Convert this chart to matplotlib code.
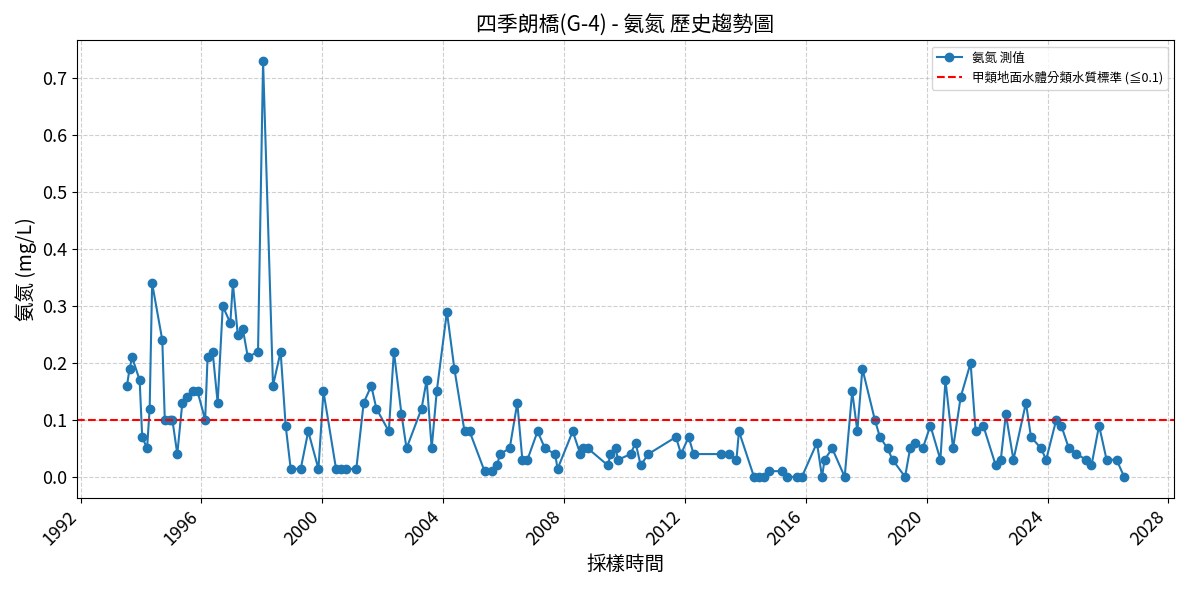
import pandas as pd
import matplotlib.pyplot as plt

plt.rcParams['font.family'] = ['Noto Sans CJK TC', 'DejaVu Sans']
plt.rcParams['axes.unicode_minus'] = False

# sampling dates and NH3-N values (mg/L)
dates = [
    '1993-07', '1993-08', '1993-09', '1993-12', '1994-01', '1994-03', '1994-04', '1994-05',
    '1994-09', '1994-10', '1994-12', '1995-01', '1995-03', '1995-05', '1995-07', '1995-09',
    '1995-11', '1996-02', '1996-03', '1996-05', '1996-07', '1996-09', '1996-12', '1997-01',
    '1997-03', '1997-05', '1997-07', '1997-11', '1998-01', '1998-05', '1998-08', '1998-10',
    '1998-12', '1999-04', '1999-07', '1999-11', '2000-01', '2000-06', '2000-08', '2000-10',
    '2001-02', '2001-05', '2001-08', '2001-10', '2002-03', '2002-05', '2002-08', '2002-10',
    '2003-04', '2003-06', '2003-08', '2003-10', '2004-02', '2004-05', '2004-09', '2004-11',
    '2005-05', '2005-08', '2005-10', '2005-11', '2006-03', '2006-06', '2006-08', '2006-10',
    '2007-02', '2007-05', '2007-09', '2007-10', '2008-04', '2008-07', '2008-08', '2008-10',
    '2009-06', '2009-07', '2009-09', '2009-10', '2010-03', '2010-05', '2010-07', '2010-10',
    '2011-09', '2011-11', '2012-02', '2012-04', '2013-03', '2013-06', '2013-09', '2013-10',
    '2014-04', '2014-06', '2014-08', '2014-10', '2015-03', '2015-05', '2015-09', '2015-11',
    '2016-05', '2016-07', '2016-08', '2016-11', '2017-04', '2017-07', '2017-09', '2017-11',
    '2018-04', '2018-06', '2018-09', '2018-11', '2019-04', '2019-06', '2019-08', '2019-11',
    '2020-02', '2020-06', '2020-08', '2020-11', '2021-02', '2021-06', '2021-08', '2021-11',
    '2022-04', '2022-06', '2022-08', '2022-11', '2023-04', '2023-06', '2023-10', '2023-12',
    '2024-04', '2024-06', '2024-09', '2024-12', '2025-04', '2025-06', '2025-09', '2025-12',
    '2026-04', '2026-07',
]
values = [
    0.16, 0.19, 0.21, 0.17, 0.07, 0.05, 0.12, 0.34,
    0.24, 0.10, 0.10, 0.10, 0.04, 0.13, 0.14, 0.15,
    0.15, 0.10, 0.21, 0.22, 0.13, 0.30, 0.27, 0.34,
    0.25, 0.26, 0.21, 0.22, 0.73, 0.16, 0.22, 0.09,
    0.014, 0.014, 0.08, 0.014, 0.15, 0.014, 0.014, 0.014,
    0.014, 0.13, 0.16, 0.12, 0.08, 0.22, 0.11, 0.05,
    0.12, 0.17, 0.05, 0.15, 0.29, 0.19, 0.08, 0.08,
    0.01, 0.01, 0.02, 0.04, 0.05, 0.13, 0.03, 0.03,
    0.08, 0.05, 0.04, 0.014, 0.08, 0.04, 0.05, 0.05,
    0.02, 0.04, 0.05, 0.03, 0.04, 0.06, 0.02, 0.04,
    0.07, 0.04, 0.07, 0.04, 0.04, 0.04, 0.03, 0.08,
    0.0, 0.0, 0.0, 0.01, 0.01, 0.0, 0.0, 0.0,
    0.06, 0.0, 0.03, 0.05, 0.0, 0.15, 0.08, 0.19,
    0.10, 0.07, 0.05, 0.03, 0.0, 0.05, 0.06, 0.05,
    0.09, 0.03, 0.17, 0.05, 0.14, 0.20, 0.08, 0.09,
    0.02, 0.03, 0.11, 0.03, 0.13, 0.07, 0.05, 0.03,
    0.10, 0.09, 0.05, 0.04, 0.03, 0.02, 0.09, 0.03,
    0.03, 0.0,
]
standard = 0.1

df = pd.DataFrame({'date': pd.to_datetime([d + '-15' for d in dates]), 'nh3': values})

fig, ax = plt.subplots(figsize=(11.89, 5.9), dpi=100)
ax.plot(df['date'], df['nh3'], marker='o', color='#1f77b4', label='氨氮 測值')
ax.axhline(standard, color='red', linestyle='--', label='甲類地面水體分類水質標準 (≦0.1)')

ax.set_title('四季朗橋(G-4) - 氨氮 歷史趨勢圖', fontsize=15)
ax.set_xlabel('採樣時間', fontsize=14)
ax.set_ylabel('氨氮 (mg/L)', fontsize=14)
ax.tick_params(axis='both', labelsize=13)
plt.setp(ax.get_xticklabels(), rotation=45, ha='right')
ax.grid(True, linestyle='--', alpha=0.6)
ax.legend(loc='upper right', fontsize=9)

plt.tight_layout()
plt.savefig('out.png')
